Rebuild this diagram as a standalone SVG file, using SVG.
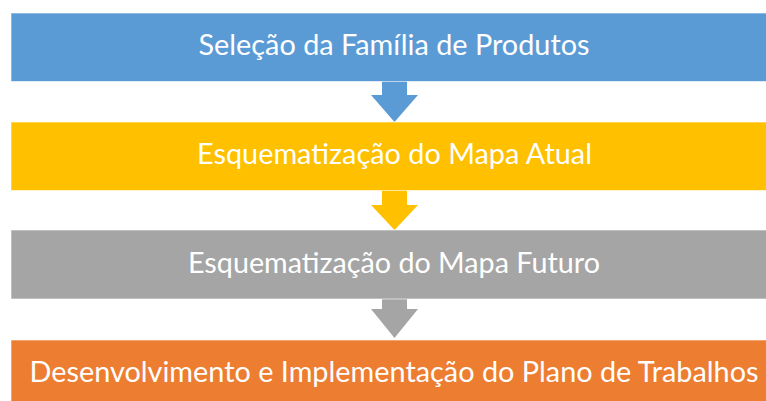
<svg xmlns="http://www.w3.org/2000/svg" width="766" height="401" viewBox="0 0 766 401">
<style>
.bar{stroke:#ffffff;stroke-opacity:0.6;stroke-width:1}
.lbl{font-family:Lato,"Open Sans","Noto Sans",sans-serif;font-size:28px;fill:#ffffff;text-anchor:middle}
</style>
<rect width="766" height="401" fill="#ffffff"/>
<g id="connectors">
<polygon id="arrow1" points="382,81 407,81 407,95 418,95 394.5,122 371,95 382,95" fill="#5B9BD5"/>
<polygon id="arrow2" points="382,190 407,190 407,205 418,205 394.5,230 371,205 382,205" fill="#FFC000"/>
<polygon id="arrow3" points="382,299 407,299 407,309 418,309 394.5,338 371,309 382,309" fill="#A5A5A5"/>
</g>
<g id="node1">
<rect class="bar" x="11" y="13" width="756" height="68.5" fill="#5B9BD5"/>
<text class="lbl" x="394" y="55" textLength="391" lengthAdjust="spacingAndGlyphs">Seleção da Família de Produtos</text>
</g>
<g id="node2">
<rect class="bar" x="11" y="122" width="756" height="68.5" fill="#FFC000"/>
<text class="lbl" x="394.5" y="164" textLength="395" lengthAdjust="spacingAndGlyphs">Esquematização do Mapa Atual</text>
</g>
<g id="node3">
<rect class="bar" x="11" y="230" width="756" height="69" fill="#A5A5A5"/>
<text class="lbl" x="394" y="272.5" textLength="412" lengthAdjust="spacingAndGlyphs">Esquematização do Mapa Futuro</text>
</g>
<g id="node4">
<rect class="bar" x="11" y="340" width="756" height="61.5" fill="#ED7D31"/>
<text class="lbl" x="394" y="382" textLength="729" lengthAdjust="spacingAndGlyphs">Desenvolvimento e Implementação do Plano de Trabalhos</text>
</g>
</svg>
